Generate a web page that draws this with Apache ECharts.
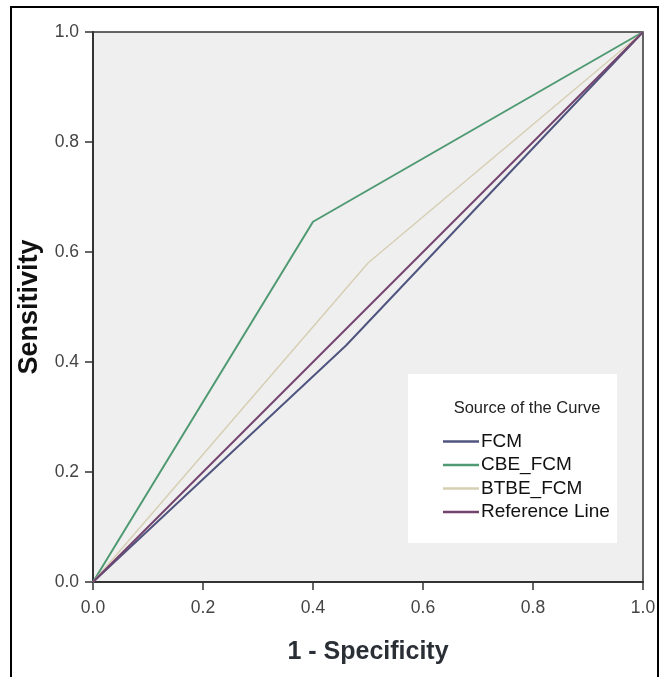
<!DOCTYPE html>
<html>
<head>
<meta charset="utf-8">
<script src="https://cdn.jsdelivr.net/npm/echarts@6/dist/echarts.min.js"></script>
<style>
  html, body { margin: 0; padding: 0; background: #fff; }
  #chart { width: 660px; height: 677px; }
</style>
</head>
<body>
<div id="chart"></div>
<script>
// ROC curve points: [1 - specificity, sensitivity]
const fcmPoints = [[0, 0], [0.46, 0.43], [1, 1]];
const cbePoints = [[0, 0], [0.40, 0.655], [1, 1]];
const btbePoints = [[0, 0], [0.50, 0.58], [1, 1]];
const refPoints = [[0, 0], [1, 1]];

const seriesNames = ["FCM", "CBE_FCM", "BTBE_FCM", "Reference Line"];
const seriesColors = ["#50557f", "#4f9a72", "#d6cfb4", "#74426e"];
const axisTicks = [0, 0.2, 0.4, 0.6, 0.8, 1.0];

const chart = echarts.init(document.getElementById("chart"), null, { renderer: "canvas" });

const font = "Liberation Sans, Arial, sans-serif";

const makeLine = (name, data, idx, width) => ({
  name: name,
  type: "line",
  data: data,
  symbol: "none",
  color: seriesColors[idx],
  lineStyle: { color: seriesColors[idx], width: width },
  z: 3,
  animation: false,
});

const option = {
  animation: false,
  grid: {
    left: 93,
    right: 17,
    top: 32,
    bottom: 95,
    show: true,
    backgroundColor: "#efefef",
    borderColor: "#333",
    borderWidth: 1.5,
  },
  xAxis: {
    type: "value",
    min: axisTicks[0],
    max: axisTicks[axisTicks.length - 1],
    interval: 0.2,
    name: "1 - Specificity",
    nameLocation: "middle",
    nameGap: 58,
    nameTextStyle: { fontFamily: font, fontWeight: "bold", fontSize: 25, color: "#2a2f36" },
    axisLine: { show: true, lineStyle: { color: "#333", width: 2 } },
    axisTick: { show: true, length: 8, lineStyle: { color: "#333", width: 1.5 } },
    axisLabel: {
      margin: 17,
      fontFamily: font,
      fontSize: 17.5,
      color: "#444",
      formatter: (v) => v.toFixed(1),
    },
    splitLine: { show: false },
  },
  yAxis: {
    type: "value",
    min: axisTicks[0],
    max: axisTicks[axisTicks.length - 1],
    interval: 0.2,
    name: "Sensitivity",
    nameLocation: "middle",
    nameGap: 50,
    nameRotate: 90,
    nameTextStyle: { fontFamily: font, fontWeight: "bold", fontSize: 27, color: "#111" },
    axisLine: { show: true, lineStyle: { color: "#333", width: 2 } },
    axisTick: { show: true, length: 8, lineStyle: { color: "#333", width: 1.5 } },
    axisLabel: {
      margin: 14,
      fontFamily: font,
      fontSize: 17.5,
      color: "#444",
      formatter: (v) => v.toFixed(1),
    },
    splitLine: { show: false },
  },
  legend: {
    orient: "vertical",
    left: 443,
    top: 432,
    padding: 0,
    itemGap: 4.5,
    itemWidth: 36,
    itemHeight: 2.5,
    icon: "rect",
    data: seriesNames,
    textStyle: { fontFamily: font, fontSize: 19, color: "#111", lineHeight: 18, padding: [0, 0, 0, -3] },
    selectedMode: false,
  },
  graphic: [
    {
      type: "rect",
      shape: { x: 11, y: 7, width: 647, height: 700 },
      style: { fill: "none", stroke: "#000", lineWidth: 2 },
      z: 0,
    },
    {
      type: "rect",
      shape: { x: 408, y: 374, width: 209, height: 169 },
      style: { fill: "#fff" },
      z: 1,
    },
    {
      type: "text",
      x: 527,
      y: 408,
      style: {
        text: "Source of the Curve",
        fontFamily: font,
        fontSize: 16.5,
        fill: "#222",
        align: "center",
        verticalAlign: "middle",
      },
      z: 2,
    },
  ],
  series: [
    makeLine(seriesNames[0], fcmPoints, 0, 2),
    makeLine(seriesNames[1], cbePoints, 1, 2),
    makeLine(seriesNames[2], btbePoints, 2, 1.5),
    makeLine(seriesNames[3], refPoints, 3, 2),
  ],
};

chart.setOption(option);

window.addEventListener("resize", () => {
  chart.resize();
});
</script>
</body>
</html>
